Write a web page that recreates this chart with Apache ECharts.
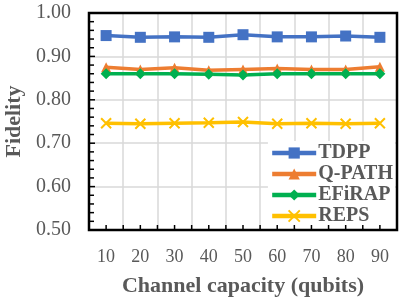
<!DOCTYPE html>
<html><head><meta charset="utf-8">
<script src="https://cdn.jsdelivr.net/npm/echarts@6/dist/echarts.min.js"></script>
<style>html,body{margin:0;padding:0;background:#fff}#c{width:408px;height:301px}</style>
</head><body><div id="c"></div>
<script>
const categories = ['10','20','30','40','50','60','70','80','90'];
const tdpp   = [0.948,0.944,0.945,0.944,0.950,0.945,0.945,0.947,0.944];
const qpath  = [0.875,0.870,0.874,0.868,0.870,0.872,0.870,0.870,0.876];
const efirap = [0.860,0.860,0.860,0.859,0.857,0.860,0.860,0.860,0.860];
const reps   = [0.746,0.745,0.746,0.747,0.749,0.745,0.746,0.745,0.746];
const seriesNames = ['TDPP','Q-PATH','EFiRAP','REPS'];
const yTicks = {min:0.5, max:1.0, interval:0.1};

const font = '"Liberation Serif","Times New Roman",serif';
const txt = '#595959';
const ax = '#000000';
const chart = echarts.init(document.getElementById('c'), null, {renderer:'canvas'});
const mk = (name, data, color, symbol, size) => ({
  name, type:'line', data, xAxisIndex:0, yAxisIndex:0,
  symbol, symbolSize:size, lineStyle:{color, width:3.5}, itemStyle:{color},
  emphasis:{disabled:true}, z:3
});
chart.setOption({
  animation:false,
  grid:{left:89, right:11, top:13, bottom:71, outerBoundsMode:'none', containLabel:false},
  legend:{
    orient:'vertical', right:13, top:141, itemGap:1, itemWidth:44, itemHeight:14,
    backgroundColor:'#fff', padding:[2,2,2,2], z:6,
    data:seriesNames, lineStyle:{width:4.5},
    textStyle:{fontFamily:font, fontWeight:'bold', fontSize:20, color:txt, padding:[0,0,0,-3]}
  },
  xAxis:[{
    type:'category', data:categories, boundaryGap:true,
    axisLine:{show:false, onZero:false},
    axisTick:{show:false},
    axisLabel:{fontFamily:font, fontSize:18, color:txt, margin:18},
    splitLine:{show:true, interval:0, lineStyle:{color:'#d9d9d9', width:1.5}},
    name:'Channel capacity (qubits)', nameLocation:'middle', nameGap:45,
    nameTextStyle:{fontFamily:font, fontWeight:'bold', fontSize:22, color:txt}
  },{
    type:'value', min:0, max:categories.length, show:false
  }],
  yAxis:[{
    type:'value', min:yTicks.min, max:yTicks.max, interval:yTicks.interval,
    axisLine:{show:false, onZero:false},
    axisTick:{show:false},
    axisLabel:{fontFamily:font, fontSize:20, color:txt, margin:18, formatter:v=>v.toFixed(2)},
    splitLine:{show:true, lineStyle:{color:'#d9d9d9', width:1.5}},
    name:'Fidelity', nameLocation:'middle', nameGap:62,
    nameTextStyle:{fontFamily:font, fontWeight:'bold', fontSize:22, color:txt}
  }],
  series:[
    mk('TDPP', tdpp, '#4472C4', 'rect', 11),
    mk('Q-PATH', qpath, '#ED7D31', 'triangle', 10),
    mk('EFiRAP', efirap, '#00B050', 'diamond', 11),
    Object.assign(mk('REPS', reps, '#FFC000', 'path://M0,0 L10,10 M10,0 L0,10', 10),
      {itemStyle:{color:'#FFC000', borderColor:'#FFC000', borderWidth:2}})
  ]
});

// Frame and inward ticks, positioned through the chart's own scales
const P = (x, y) => chart.convertToPixel({xAxisIndex:1, yAxisIndex:0}, [x, y]);
const n = categories.length;
const bl = P(0, yTicks.min), tr = P(n, yTicks.max);
const g = [];
const seg = (x1,y1,x2,y2,w) => g.push({type:'line', silent:true, z:100,
  shape:{x1,y1,x2,y2}, style:{stroke:ax, lineWidth:w}});
// bottom ticks at category boundaries and centers
for (let k = 0; k <= 2*n; k++) {
  const p = P(k/2, yTicks.min);
  seg(p[0], p[1], p[0], p[1]-5, 1.5);
}
// left ticks: major every interval, minor every interval/5
const steps = Math.round((yTicks.max - yTicks.min) / yTicks.interval) * 5;
for (let k = 0; k <= steps; k++) {
  const v = yTicks.min + k * yTicks.interval / 5;
  const p = P(0, v);
  seg(p[0], p[1], p[0]+(k % 5 === 0 ? 6 : 5), p[1], 1.5);
}
g.push({type:'rect', silent:true, z:101,
  shape:{x:bl[0], y:tr[1], width:tr[0]-bl[0], height:bl[1]-tr[1]},
  style:{fill:'none', stroke:ax, lineWidth:2.5}});
chart.setOption({graphic:g});
</script></body></html>
